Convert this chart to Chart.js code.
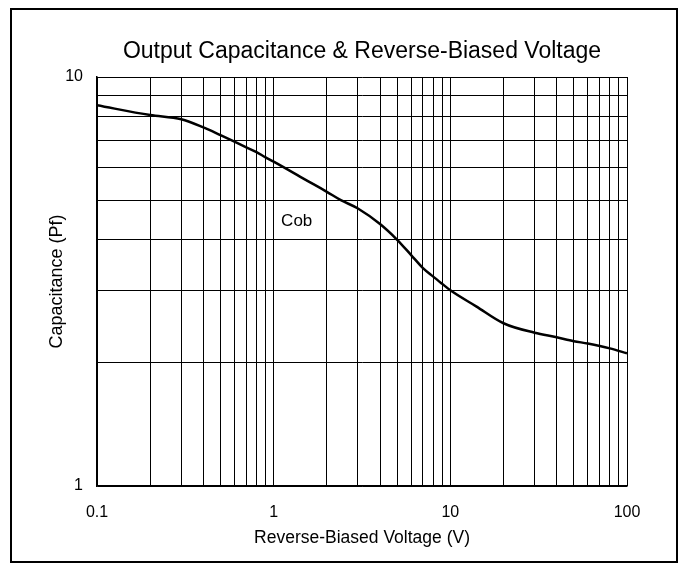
<!DOCTYPE html>
<html lang="en">
<head>
    <meta charset="UTF-8">
    <title>Output Capacitance & Reverse-Biased Voltage</title>
    <script src="https://cdn.jsdelivr.net/npm/chart.js@4"></script>
    <style>
        body {
            margin: 0;
            background: white;
        }
        .wrap {
            width: 684px;
            height: 570px;
            position: relative;
        }
    </style>
</head>
<body>
    <div class="wrap">
        <canvas id="cob-chart" width="684" height="570"></canvas>
    </div>

    <script>
        // values
        const voltage = [0.1, 0.2, 0.3, 0.4, 0.5, 0.6, 0.7, 0.8, 0.9, 1, 1.5, 2, 2.4, 3, 4, 5, 6, 7, 8, 9, 10, 14, 20, 30, 40, 50, 60, 80, 100];
        const capacitance = [8.53, 8.07, 7.88, 7.53, 7.21, 6.95, 6.73, 6.55, 6.36, 6.21, 5.62, 5.24, 5.0, 4.77, 4.37, 4.0, 3.67, 3.41, 3.25, 3.12, 3.01, 2.75, 2.5, 2.37, 2.31, 2.26, 2.23, 2.17, 2.11];

        const xTicks = [0.1, 0.2, 0.3, 0.4, 0.5, 0.6, 0.7, 0.8, 0.9, 1, 2, 3, 4, 5, 6, 7, 8, 9, 10, 20, 30, 40, 50, 60, 70, 80, 90, 100];
        const xLabels = [0.1, 1, 10, 100];
        const yTicks = [1, 2, 3, 4, 5, 6, 7, 8, 9, 10];
        const yLabels = [1, 10];

        const seriesName = "Cob";
        const chartTitle = "Output Capacitance & Reverse-Biased Voltage";

        const FONT = "Arial, 'Liberation Sans', sans-serif";

        // frame, title (centred over the plot) and the series label
        const decorations = {
            id: "decorations",
            afterDraw(chart) {
                const ctx = chart.ctx;
                const area = chart.chartArea;
                ctx.save();
                ctx.strokeStyle = "#000";
                ctx.lineWidth = 2;
                ctx.strokeRect(11, 9, 666, 553);

                ctx.fillStyle = "#000";
                ctx.textAlign = "center";
                ctx.textBaseline = "middle";

                ctx.font = "23px " + FONT;
                ctx.fillText(chartTitle, (area.left + area.right) / 2, 52);

                const x = chart.scales.x.getPixelForValue(1.35);
                const y = chart.scales.y.getPixelForValue(4.44);
                ctx.font = "17px " + FONT;
                ctx.fillText(seriesName, x, y);
                ctx.restore();
            }
        };

        const ctx = document.getElementById("cob-chart").getContext("2d");

        new Chart(ctx, {
            type: "line",
            data: {
                datasets: [{
                    label: seriesName,
                    data: voltage.map((v, i) => ({ x: v, y: capacitance[i] })),
                    borderColor: "#000",
                    borderWidth: 2.5,
                    pointRadius: 0,
                    cubicInterpolationMode: "monotone",
                    fill: false
                }]
            },
            options: {
                responsive: false,
                animation: false,
                layout: {
                    padding: { left: 0, right: 57, top: 77, bottom: 0 }
                },
                scales: {
                    x: {
                        type: "logarithmic",
                        min: 0.1,
                        max: 100,
                        afterBuildTicks(axis) {
                            axis.ticks = xTicks.map(v => ({ value: v }));
                        },
                        afterFit(axis) {
                            axis.height = 84;
                        },
                        border: { color: "#000", width: 1.5 },
                        grid: {
                            color: "#000",
                            lineWidth: 1,
                            drawTicks: false
                        },
                        ticks: {
                            autoSkip: false,
                            maxRotation: 0,
                            padding: 17,
                            color: "#000",
                            font: { size: 16, family: FONT },
                            callback: v => xLabels.includes(v) ? String(v) : ""
                        },
                        title: {
                            display: true,
                            text: "Reverse-Biased Voltage (V)",
                            color: "#000",
                            font: { size: 17.5, family: FONT },
                            padding: { top: 4, bottom: 21 }
                        }
                    },
                    y: {
                        type: "logarithmic",
                        min: 1,
                        max: 10,
                        afterBuildTicks(axis) {
                            axis.ticks = yTicks.map(v => ({ value: v }));
                        },
                        afterFit(axis) {
                            axis.width = 97;
                        },
                        border: { color: "#000", width: 1.5 },
                        grid: {
                            color: "#000",
                            lineWidth: 1,
                            drawTicks: false
                        },
                        ticks: {
                            autoSkip: false,
                            padding: 14,
                            color: "#000",
                            font: { size: 16, family: FONT },
                            callback: v => yLabels.includes(v) ? String(v) : ""
                        },
                        title: {
                            display: true,
                            text: "Capacitance (Pf)",
                            color: "#000",
                            font: { size: 18, family: FONT },
                            padding: { top: 46, bottom: 0 }
                        }
                    }
                },
                plugins: {
                    legend: { display: false },
                    tooltip: { enabled: false },
                    title: { display: false }
                }
            },
            plugins: [decorations]
        });
    </script>
</body>
</html>
